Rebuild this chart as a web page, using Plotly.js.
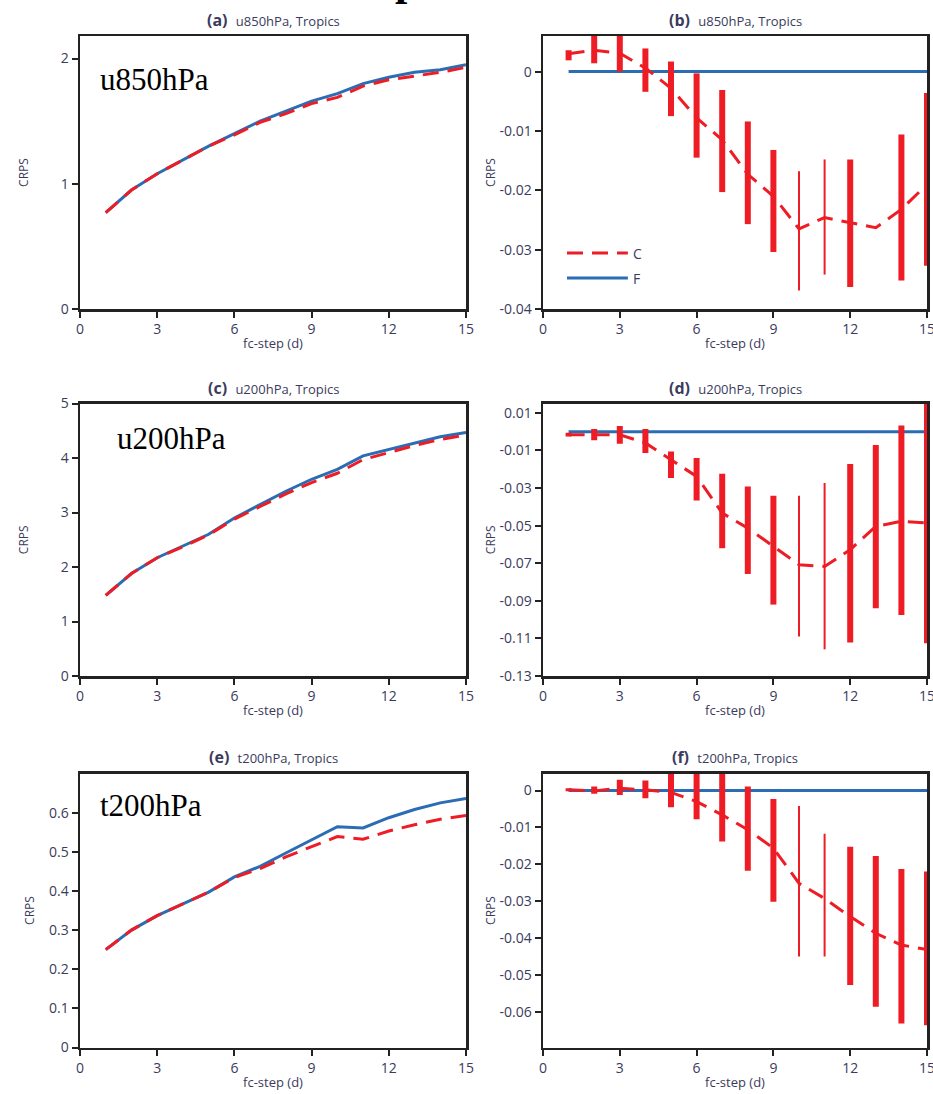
<!DOCTYPE html>
<html><head><meta charset="utf-8">
<script src="https://cdn.plot.ly/plotly-3.0.1.min.js"></script>
<style>html,body{margin:0;padding:0;background:#fff;} #chart{width:933px;height:1094px;}</style>
</head><body><div id="chart"></div>
<script>
// ---------------- data ----------------
const steps = [1, 2, 3, 4, 5, 6, 7, 8, 9, 10, 11, 12, 13, 14, 15];
const xTickVals = [0, 3, 6, 9, 12, 15];
const xTickText = ['0', '3', '6', '9', '12', '15'];

// (a) u850hPa CRPS
const a_F = [0.77, 0.95, 1.08, 1.19, 1.30, 1.40, 1.50, 1.58, 1.66, 1.72, 1.80, 1.85, 1.89, 1.91, 1.95];
const a_C = [0.77, 0.95, 1.08, 1.19, 1.30, 1.39, 1.49, 1.56, 1.64, 1.69, 1.78, 1.83, 1.86, 1.89, 1.93];
// (b) u850hPa CRPS difference
const b_F  = [0, 0, 0, 0, 0, 0, 0, 0, 0, 0, 0, 0, 0, 0, 0];
const b_C  = [0.0030, 0.0036, 0.0031, 0.0006, -0.0028, -0.0078, -0.0115, -0.0173, -0.0210, -0.0265, -0.0246, -0.0254, -0.0263, -0.0232, -0.0190];
const b_lo = [0.0019, 0.0014, 0.0000, -0.0034, -0.0075, -0.0145, -0.0203, -0.0257, -0.0304, -0.0369, -0.0342, -0.0363, null, -0.0352, -0.0327];
const b_hi = [0.0036, 0.0065, 0.0068, 0.0039, 0.0017, -0.0003, -0.0031, -0.0084, -0.0132, -0.0168, -0.0148, -0.0148, null, -0.0106, -0.0036];
// (c) u200hPa CRPS
const c_F = [1.48, 1.88, 2.17, 2.38, 2.60, 2.90, 3.15, 3.39, 3.61, 3.79, 4.04, 4.16, 4.28, 4.39, 4.47];
const c_C = [1.48, 1.88, 2.17, 2.37, 2.59, 2.88, 3.11, 3.34, 3.55, 3.72, 3.97, 4.10, 4.23, 4.34, 4.42];
// (d) u200hPa CRPS difference
const d_F  = [0, 0, 0, 0, 0, 0, 0, 0, 0, 0, 0, 0, 0, 0, 0];
const d_C  = [-0.0016, -0.0016, -0.0016, -0.0060, -0.0149, -0.0238, -0.0433, -0.0513, -0.0610, -0.0708, -0.0717, -0.0628, -0.0504, -0.0477, -0.0486];
const d_lo = [-0.0025, -0.0046, -0.0064, -0.0114, -0.0247, -0.0366, -0.0620, -0.0757, -0.0920, -0.1090, -0.1158, -0.1122, -0.0939, -0.0975, -0.1126];
const d_hi = [-0.0005, 0.0014, 0.0030, 0.0014, -0.0105, -0.0140, -0.0224, -0.0291, -0.0341, -0.0341, -0.0273, -0.0172, -0.0071, 0.0033, 0.0200];
// (e) t200hPa CRPS
const e_F = [0.250, 0.300, 0.337, 0.368, 0.397, 0.436, 0.463, 0.497, 0.530, 0.564, 0.561, 0.587, 0.608, 0.625, 0.636];
const e_C = [0.250, 0.300, 0.337, 0.368, 0.397, 0.434, 0.457, 0.487, 0.514, 0.539, 0.532, 0.553, 0.569, 0.583, 0.593];
// (f) t200hPa CRPS difference
const f_F  = [0, 0, 0, 0, 0, 0, 0, 0, 0, 0, 0, 0, 0, 0, 0];
const f_C  = [0.0002, -0.0001, 0.0006, 0.0002, -0.0005, -0.0030, -0.0066, -0.0106, -0.0156, -0.0251, -0.0292, -0.0341, -0.0386, -0.0418, -0.0430];
const f_lo = [-0.0002, -0.0009, -0.0012, -0.0021, -0.0045, -0.0078, -0.0138, -0.0217, -0.0301, -0.0449, -0.0449, -0.0526, -0.0585, -0.0630, -0.0635];
const f_hi = [0.0006, 0.0011, 0.0029, 0.0027, 0.0060, 0.0060, 0.0060, 0.0011, -0.0023, -0.0042, -0.0117, -0.0152, -0.0177, -0.0212, -0.0219];

// tick labels
const yA_vals = [0, 1, 2];           const yA_text = ['0', '1', '2'];
const yB_vals = [0, -0.01, -0.02, -0.03, -0.04]; const yB_text = ['0', '-0.01', '-0.02', '-0.03', '-0.04'];
const yC_vals = [0, 1, 2, 3, 4, 5];  const yC_text = ['0', '1', '2', '3', '4', '5'];
const yD_vals = [0.01, -0.01, -0.03, -0.05, -0.07, -0.09, -0.11, -0.13];
const yD_text = ['0.01', '-0.01', '-0.03', '-0.05', '-0.07', '-0.09', '-0.11', '-0.13'];
const yE_vals = [0, 0.1, 0.2, 0.3, 0.4, 0.5, 0.6]; const yE_text = ['0', '0.1', '0.2', '0.3', '0.4', '0.5', '0.6'];
const yF_vals = [0, -0.01, -0.02, -0.03, -0.04, -0.05, -0.06];
const yF_text = ['0', '-0.01', '-0.02', '-0.03', '-0.04', '-0.05', '-0.06'];

const thinSteps = [10, 11];   // steps drawn with thin bars
const seriesNames = ['C', 'F'];

// ---------------- style ----------------
const RED = '#ee1c24', BLUE = '#2b6cb3', AX = '#222222', TXT = '#3b3b5c';
const FONT = 'Open Sans, Noto Sans, sans-serif';
const DASH = '16px,9px';

function lineTrace(y, color, dash, xa, ya, name) {
  return {x: steps, y: y, type: 'scatter', mode: 'lines', name: name, xaxis: xa, yaxis: ya,
          line: {color: color, width: 3, dash: dash}, hoverinfo: 'x+y', showlegend: false};
}
function barTrace(mean, lo, hi, thin, xa, ya) {
  const ys = [], plus = [], minus = [];
  steps.forEach((s, i) => {
    const use = (thinSteps.includes(s) === thin) && lo[i] !== null && hi[i] !== null;
    ys.push(use ? mean[i] : null);
    plus.push(use ? hi[i] - mean[i] : 0);
    minus.push(use ? mean[i] - lo[i] : 0);
  });
  return {x: steps, y: ys, type: 'scatter', mode: 'markers', xaxis: xa, yaxis: ya,
          marker: {size: 2, color: RED, opacity: 0}, showlegend: false, hoverinfo: 'skip',
          error_y: {type: 'data', symmetric: false, array: plus, arrayminus: minus,
                    color: RED, thickness: thin ? 2 : 6, width: 0}};
}

const traces = [
  lineTrace(a_F, BLUE, 'solid', 'x', 'y', 'F'),
  lineTrace(a_C, RED, DASH, 'x', 'y', 'C'),
  lineTrace(b_F, BLUE, 'solid', 'x2', 'y2', 'F'),
  barTrace(b_C, b_lo, b_hi, false, 'x2', 'y2'),
  barTrace(b_C, b_lo, b_hi, true, 'x2', 'y2'),
  lineTrace(b_C, RED, DASH, 'x2', 'y2', 'C'),
  lineTrace(c_F, BLUE, 'solid', 'x3', 'y3', 'F'),
  lineTrace(c_C, RED, DASH, 'x3', 'y3', 'C'),
  lineTrace(d_F, BLUE, 'solid', 'x4', 'y4', 'F'),
  barTrace(d_C, d_lo, d_hi, false, 'x4', 'y4'),
  barTrace(d_C, d_lo, d_hi, true, 'x4', 'y4'),
  lineTrace(d_C, RED, DASH, 'x4', 'y4', 'C'),
  lineTrace(e_F, BLUE, 'solid', 'x5', 'y5', 'F'),
  lineTrace(e_C, RED, DASH, 'x5', 'y5', 'C'),
  lineTrace(f_F, BLUE, 'solid', 'x6', 'y6', 'F'),
  barTrace(f_C, f_lo, f_hi, false, 'x6', 'y6'),
  barTrace(f_C, f_lo, f_hi, true, 'x6', 'y6'),
  lineTrace(f_C, RED, DASH, 'x6', 'y6', 'C')
];

const W = 933, H = 1094;
const colL = [80 / W, 466 / W], colR = [543 / W, 927 / W];
const row1 = [1 - 309 / H, 1 - 36 / H], row2 = [1 - 676 / H, 1 - 403.5 / H], row3 = [1 - 1047.5 / H, 1 - 773.5 / H];

function xAxis(domain, anchor) {
  return {domain: domain, anchor: anchor, range: [0, 15], tickmode: 'array', tickvals: xTickVals, ticktext: xTickText,
          ticks: 'outside', ticklen: 6, tickwidth: 2, tickcolor: AX, showline: true, linecolor: AX, linewidth: 2.5,
          mirror: true, showgrid: false, zeroline: false, fixedrange: true, ticklabeloverflow: 'allow',
          tickfont: {family: FONT, size: 14, color: TXT},
          title: {text: 'fc-step (d)', font: {family: FONT, size: 13, color: TXT}, standoff: 2}};
}
function yAxis(domain, anchor, range, vals, text, standoff) {
  return {domain: domain, anchor: anchor, range: range, tickmode: 'array', tickvals: vals, ticktext: text,
          ticks: 'outside', ticklen: 6, tickwidth: 2, tickcolor: AX, showline: true, linecolor: AX, linewidth: 2.5,
          mirror: true, showgrid: false, zeroline: false, fixedrange: true,
          tickfont: {family: FONT, size: 14, color: TXT},
          title: {text: 'CRPS', font: {family: FONT, size: 12, color: TXT}, standoff: standoff}};
}

function panelTitle(letter, text, xref, yPix) {
  return {xref: xref + ' domain', yref: 'paper', x: 0.5, y: 1 - yPix / H, xanchor: 'center', yanchor: 'middle',
          showarrow: false, text: '<b>(' + letter + ')</b>  <span style="font-size:13px">' + text + '</span>',
          font: {family: FONT, size: 16, color: TXT}};
}
function varLabel(text, xPix, yPix) {
  return {xref: 'paper', yref: 'paper', x: xPix / W, y: 1 - yPix / H, xanchor: 'left', yanchor: 'middle',
          showarrow: false, text: text, font: {family: 'Liberation Serif, Times New Roman, serif', size: 31, color: '#000'}};
}

const annotations = [
  panelTitle('a', 'u850hPa, Tropics', 'x', 20),
  panelTitle('b', 'u850hPa, Tropics', 'x2', 20),
  panelTitle('c', 'u200hPa, Tropics', 'x3', 388),
  panelTitle('d', 'u200hPa, Tropics', 'x4', 388),
  panelTitle('e', 't200hPa, Tropics', 'x5', 757),
  panelTitle('f', 't200hPa, Tropics', 'x6', 757),
  varLabel('u850hPa', 98, 80),
  varLabel('u200hPa', 115, 438),
  varLabel('t200hPa', 98, 805),
  // legend labels (panel b)
  {xref: 'x2 domain', yref: 'y2 domain', x: 0.228, y: (309 - 253) / 273, xanchor: 'left', yanchor: 'middle', showarrow: false,
   text: seriesNames[0], font: {family: FONT, size: 14, color: TXT}},
  {xref: 'x2 domain', yref: 'y2 domain', x: 0.228, y: (309 - 278) / 273, xanchor: 'left', yanchor: 'middle', showarrow: false,
   text: seriesNames[1], font: {family: FONT, size: 14, color: TXT}},
  // cut-off heading at the very top
  {xref: 'paper', yref: 'paper', x: 407 / W, y: 1 + 19 / H, xanchor: 'center', yanchor: 'middle', showarrow: false,
   text: '<b>p</b>', font: {family: 'Liberation Serif, serif', size: 44, color: '#000'}}
];

const shapes = [
  {type: 'line', xref: 'x2 domain', yref: 'y2 domain', x0: 0.0625, x1: 0.221, y0: (309 - 253) / 273, y1: (309 - 253) / 273,
   line: {color: RED, width: 3, dash: DASH}},
  {type: 'line', xref: 'x2 domain', yref: 'y2 domain', x0: 0.0625, x1: 0.221, y0: (309 - 278) / 273, y1: (309 - 278) / 273,
   line: {color: BLUE, width: 3}}
];

const layout = {
  width: W, height: H, margin: {l: 0, r: 0, t: 0, b: 0}, paper_bgcolor: '#fff', plot_bgcolor: '#fff',
  showlegend: false, font: {family: FONT, color: TXT},
  xaxis: xAxis(colL, 'y'), yaxis: yAxis(row1, 'x', [0, 2.18], yA_vals, yA_text, 30),
  xaxis2: xAxis(colR, 'y2'), yaxis2: yAxis(row1, 'x2', [-0.04, 0.006], yB_vals, yB_text, 0),
  xaxis3: xAxis(colL, 'y3'), yaxis3: yAxis(row2, 'x3', [0, 5], yC_vals, yC_text, 30),
  xaxis4: xAxis(colR, 'y4'), yaxis4: yAxis(row2, 'x4', [-0.13, 0.015], yD_vals, yD_text, 0),
  xaxis5: xAxis(colL, 'y5'), yaxis5: yAxis(row3, 'x5', [0, 0.7], yE_vals, yE_text, 12),
  xaxis6: xAxis(colR, 'y6'), yaxis6: yAxis(row3, 'x6', [-0.0695, 0.0046], yF_vals, yF_text, 0),
  annotations: annotations, shapes: shapes
};

Plotly.newPlot('chart', traces, layout, {displayModeBar: false, staticPlot: true});
</script></body></html>
